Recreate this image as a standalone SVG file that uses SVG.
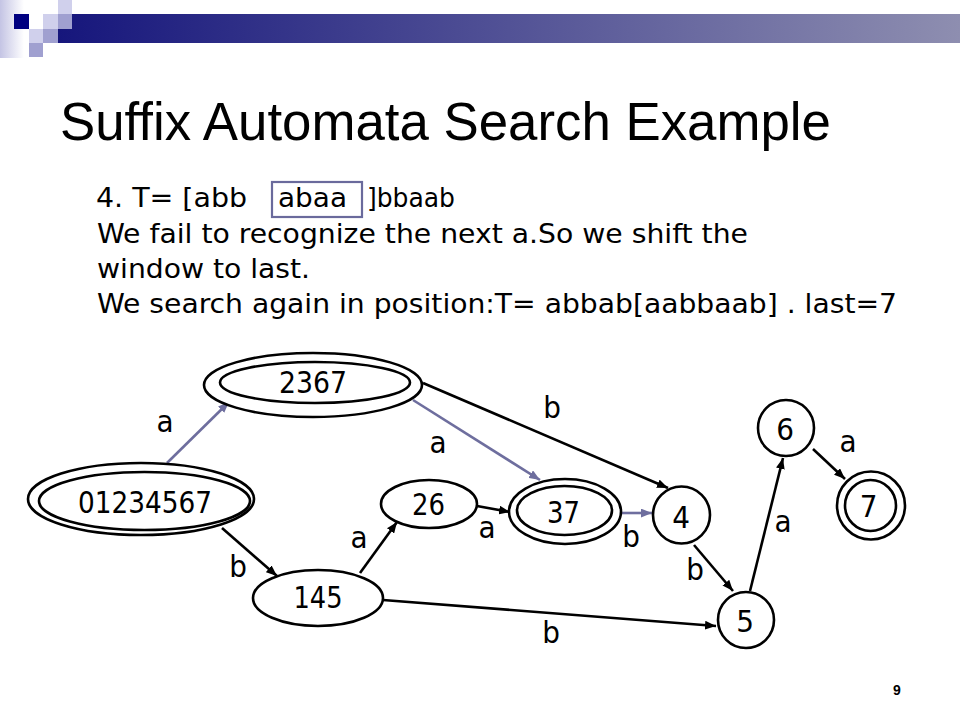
<svg xmlns="http://www.w3.org/2000/svg" width="960" height="720" viewBox="0 0 960 720">
<defs>
<linearGradient id="bar" x1="0" y1="0" x2="1" y2="0">
<stop offset="0" stop-color="#16167c"/>
<stop offset="1" stop-color="#8e8eb0"/>
</linearGradient>
<linearGradient id="strip" x1="0" y1="0" x2="1" y2="0">
<stop offset="0" stop-color="#c4c4e4"/>
<stop offset="1" stop-color="#ffffff"/>
</linearGradient>
<marker id="ab" viewBox="0 0 10 8" refX="10" refY="4" markerWidth="11" markerHeight="9" markerUnits="userSpaceOnUse" orient="auto">
<path d="M0,0 L10,4 L0,8 z" fill="#000"/>
</marker>
<marker id="ap" viewBox="0 0 10 8" refX="10" refY="4" markerWidth="11" markerHeight="9" markerUnits="userSpaceOnUse" orient="auto">
<path d="M0,0 L10,4 L0,8 z" fill="#6e6e9e"/>
</marker>
</defs>
<style>
.node{fill:#fff;stroke:#000;stroke-width:2.6}
.nt{font-family:"DejaVu Sans Condensed","DejaVu Sans",sans-serif;font-size:31px;text-anchor:middle;fill:#000}
.lbl{font-family:"DejaVu Sans Condensed","DejaVu Sans",sans-serif;font-size:31px;text-anchor:middle;fill:#000}
.body{font-family:"DejaVu Sans Condensed","DejaVu Sans",sans-serif;font-size:27px;fill:#000}
.eb{stroke:#000;stroke-width:2.6;fill:none;marker-end:url(#ab)}
.ep{stroke:#6e6e9e;stroke-width:2.6;fill:none;marker-end:url(#ap)}
.lt{fill:#d0d0ec}
.md{fill:#a0a0d0}
</style>
<rect width="960" height="720" fill="#fff"/>
<g id="decoration">
<rect x="0" y="0" width="24" height="58" fill="url(#strip)"/>
<rect x="58" y="14" width="902" height="29" fill="url(#bar)"/>
<rect x="14" y="14" width="15" height="15" fill="#000080"/>
<rect x="43" y="14" width="15" height="15" class="lt"/>
<rect x="58" y="0" width="14" height="14" class="lt"/>
<rect x="58" y="14" width="14" height="15" class="md"/>
<rect x="29" y="29" width="14" height="14" class="lt"/>
<rect x="43" y="29" width="15" height="14" class="md"/>
<rect x="29" y="43" width="14" height="14" class="md"/>
</g>
<text id="title" x="60" y="140" font-family="'Liberation Sans',Arial,sans-serif" font-size="52.8" fill="#000">Suffix Automata Search Example</text>
<g id="description">
<rect x="272" y="182" width="90" height="35" fill="none" stroke="#6a6a9c" stroke-width="2.2"/>
<text class="body" x="96" y="207" textLength="151" lengthAdjust="spacingAndGlyphs">4. T= [abb</text>
<text class="body" x="278" y="207" textLength="69" lengthAdjust="spacingAndGlyphs">abaa</text>
<text class="body" x="367" y="207" textLength="88" lengthAdjust="spacingAndGlyphs">]bbaab</text>
<text class="body" x="97" y="243" textLength="651" lengthAdjust="spacingAndGlyphs">We fail to recognize the next a.So we shift the</text>
<text class="body" x="97" y="278" textLength="213" lengthAdjust="spacingAndGlyphs">window to last.</text>
<text class="body" x="97" y="313" textLength="800" lengthAdjust="spacingAndGlyphs">We search again in position:T= abbab[aabbaab] . last=7</text>
</g>
<g id="connectors">
<line class="ep" x1="167" y1="463" x2="229" y2="402"/>
<line class="ep" x1="413" y1="400" x2="540" y2="480"/>
<line class="eb" x1="423" y1="383" x2="668" y2="488"/>
<line class="eb" x1="222" y1="528" x2="277" y2="576"/>
<line class="eb" x1="360" y1="573" x2="397" y2="522"/>
<line class="eb" x1="383" y1="600" x2="716" y2="626"/>
<line class="eb" x1="477" y1="506" x2="510" y2="512"/>
<line class="ep" x1="622" y1="513" x2="652" y2="513"/>
<line class="eb" x1="694" y1="545" x2="733" y2="591"/>
<line class="eb" x1="750" y1="591" x2="783" y2="458"/>
<line class="eb" x1="813" y1="449" x2="845" y2="479"/>
<text class="lbl" x="165" y="432">a</text>
<text class="lbl" x="438" y="453">a</text>
<text class="lbl" x="552" y="418">b</text>
<text class="lbl" x="238" y="577">b</text>
<text class="lbl" x="359" y="548">a</text>
<text class="lbl" x="551" y="643">b</text>
<text class="lbl" x="487" y="538">a</text>
<text class="lbl" x="631" y="547">b</text>
<text class="lbl" x="695" y="580">b</text>
<text class="lbl" x="783" y="532">a</text>
<text class="lbl" x="848" y="452">a</text>
</g>
<g id="n2367">
<ellipse class="node" cx="313" cy="385" rx="109" ry="32"/>
<ellipse class="node" cx="315" cy="382.5" rx="95" ry="20.5"/>
<text class="nt" x="313" y="393" textLength="68" lengthAdjust="spacingAndGlyphs">2367</text>
</g>
<g id="n01234567">
<ellipse class="node" cx="141" cy="499" rx="113" ry="36"/>
<ellipse class="node" cx="144.5" cy="501" rx="105.5" ry="29"/>
<text class="nt" x="145" y="513" textLength="134" lengthAdjust="spacingAndGlyphs">01234567</text>
</g>
<g id="n145">
<ellipse class="node" cx="318" cy="598" rx="65" ry="28"/>
<text class="nt" x="318" y="608" textLength="49" lengthAdjust="spacingAndGlyphs">145</text>
</g>
<g id="n26">
<ellipse class="node" cx="429" cy="504" rx="48" ry="24"/>
<text class="nt" x="428.5" y="515" textLength="33" lengthAdjust="spacingAndGlyphs">26</text>
</g>
<g id="n37">
<ellipse class="node" cx="565" cy="511.5" rx="56" ry="32.5"/>
<ellipse class="node" cx="564.5" cy="510.5" rx="47.5" ry="24.5"/>
<text class="nt" x="563.5" y="523" textLength="33" lengthAdjust="spacingAndGlyphs">37</text>
</g>
<g id="n4">
<circle class="node" cx="681.5" cy="515" r="28.5"/>
<text class="nt" x="681" y="528">4</text>
</g>
<g id="n5">
<circle class="node" cx="746" cy="620" r="28"/>
<text class="nt" x="745" y="632">5</text>
</g>
<g id="n6">
<circle class="node" cx="786" cy="428" r="28"/>
<text class="nt" x="785" y="440">6</text>
</g>
<g id="n7">
<circle class="node" cx="871" cy="505.5" r="34"/>
<circle class="node" cx="870.5" cy="505.5" r="25.5"/>
<text class="nt" x="868.5" y="517">7</text>
</g>
<text id="page" x="897" y="695" font-family="'Liberation Sans',Arial,sans-serif" font-size="14" font-weight="bold" text-anchor="middle" fill="#000">9</text>
</svg>
